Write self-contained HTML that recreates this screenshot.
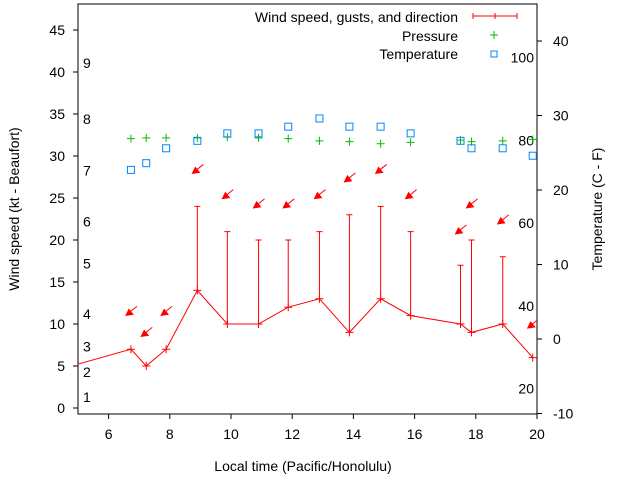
<!DOCTYPE html>
<html><head><meta charset="utf-8"><style>
body{margin:0;background:#fff}
svg{display:block;font-family:"Liberation Sans",sans-serif}
</style></head><body>
<svg id="c" width="640" height="480" viewBox="0 0 640 480" xmlns="http://www.w3.org/2000/svg"></svg>
<script>
const times=[4.0,6.73,7.23,7.88,8.9,9.88,10.9,11.87,12.89,13.87,14.89,15.87,17.5,17.86,18.88,19.86];
const wind=[4.2,7,5,7,14,10,10,12,13,9,13,11,10,9,10,6];
const gusts=[null,null,null,null,24,21,20,20,21,23,24,21,17,20,18,null];
const dirLevel=[null,11.5,9.0,11.5,28.4,25.4,24.3,24.3,25.4,27.4,28.4,25.4,21.2,24.3,22.4,10.0];
const pressure=[null,26.9,27.0,27.0,27.0,27.1,27.0,26.9,26.6,26.5,26.2,26.4,26.7,26.5,26.6,26.8];
const temperature=[null,22.7,23.6,25.6,26.6,27.6,27.6,28.5,29.6,28.5,28.5,27.6,26.6,25.6,25.6,24.6];
const leftTicks=[0,5,10,15,20,25,30,35,40,45];
const rightTicks=[-10,0,10,20,30,40];
const xTicks=[6,8,10,12,14,16,18,20];
const beaufort=[1,2,3,4,5,6,7,8,9];
const beaufortKt=[1.3,4.3,7.3,11.2,17.2,22.2,28.3,34.4,41.1];
const fahr=[20,40,60,80,100];
const L=78,R=537,T=4,B=414;
const X=h=>L+(h-5)*(R-L)/15;
const Y=v=>408-v*8.4;
const Y2=v=>339-v*7.45;
const svg=document.getElementById('c');
const NS='http://www.w3.org/2000/svg';
function mk(tag,attrs,name,parent){const e=document.createElementNS(NS,tag);for(const k in attrs)e.setAttribute(k,attrs[k]);


(parent||svg).appendChild(e);return e;}
function txt(x,y,s,name,anchor,extra){const e=mk('text',Object.assign({x:x,y:y,'font-size':14,fill:'#000','text-anchor':anchor||'start'},extra||{}),name);e.textContent=s;return e;}
const clip=mk('clipPath',{id:'pc'},'plot-clip');
mk('rect',{x:L,y:T,width:R-L,height:B-T},'plot-clip-rect',clip);
// axes ticks
leftTicks.forEach(v=>{mk('line',{x1:L-5,x2:L,y1:Y(v),y2:Y(v),stroke:'#000'},'left-tick');txt(L-13,Y(v)+5,String(v),'left-tick-label','end');});
rightTicks.forEach(v=>{mk('line',{x1:R,x2:R+5,y1:Y2(v),y2:Y2(v),stroke:'#000'},'right-tick');txt(R+16,Y2(v)+5,String(v),'right-tick-label','start');});
xTicks.forEach(v=>{mk('line',{x1:X(v),x2:X(v),y1:B,y2:B+5,stroke:'#000'},'x-tick');txt(X(v),B+25,String(v),'x-tick-label','middle');});
mk('rect',{x:L,y:T,width:R-L,height:B-T,fill:'none',stroke:'#000'},'plot-frame');
beaufort.forEach((b,i)=>txt(L+5,Y(beaufortKt[i])+5,String(b),'beaufort-label'));
fahr.forEach(f=>txt(R-3,Y2((f-32)*5/9)+5,String(f),'fahrenheit-label','end'));
const g=mk('g',{'clip-path':'url(#pc)'},'series-group');
// wind line
mk('polyline',{points:times.map((t,i)=>X(t)+','+Y(wind[i])).join(' '),fill:'none',stroke:'#f00'},'wind-line',g);
times.forEach((t,i)=>{const x=X(t),y=Y(wind[i]);
mk('path',{d:`M${x-4},${y}h8M${x},${y-4}v8`,stroke:'#f00'},'wind-point',g);
if(gusts[i]!=null){const gy=Y(gusts[i]);mk('path',{d:`M${x},${y}V${gy}M${x-3},${gy}h6`,stroke:'#f00'},'gust-bar',g);}
if(dirLevel[i]!=null){const ay=Y(dirLevel[i]);mk('path',{d:`M${x+6},${ay-5}L${x-4},${ay+3}`,stroke:'#f00'},'direction-arrow',g);
mk('path',{d:`M${x-5},${ay+4}l7,-1l-4,-5z`,fill:'#f00',stroke:'#f00'},'direction-arrowhead',g);}
if(pressure[i]!=null){const py=Y2(pressure[i]);mk('path',{d:`M${x-4},${py}h8M${x},${py-4}v8`,stroke:'#0b0'},'pressure-point',g);}
if(temperature[i]!=null){const ty=Y2(temperature[i]);mk('rect',{x:x-3.5,y:ty-3.5,width:7,height:7,fill:'none',stroke:'#08f'},'temperature-point',g);}
});
// legend
txt(458,22,'Wind speed, gusts, and direction','legend-wind-label','end');
mk('path',{d:'M473,16h44M473,13v6M495,13v6M517,13v6',stroke:'#f00'},'legend-wind-sample');
txt(458,41,'Pressure','legend-pressure-label','end');
mk('path',{d:'M490,35h8M494,31v8',stroke:'#0b0'},'legend-pressure-sample');
txt(458,59,'Temperature','legend-temperature-label','end');
mk('rect',{x:491,y:51,width:6,height:6,fill:'none',stroke:'#08f'},'legend-temperature-sample');
txt(303,471,'Local time (Pacific/Honolulu)','x-axis-title','middle');
txt(19,209,'Wind speed (kt - Beaufort)','y-axis-title','middle',{transform:'rotate(-90 19 209)'});
txt(602,209,'Temperature (C - F)','y2-axis-title','middle',{transform:'rotate(-90 602 209)'});
</script>
</body></html>
